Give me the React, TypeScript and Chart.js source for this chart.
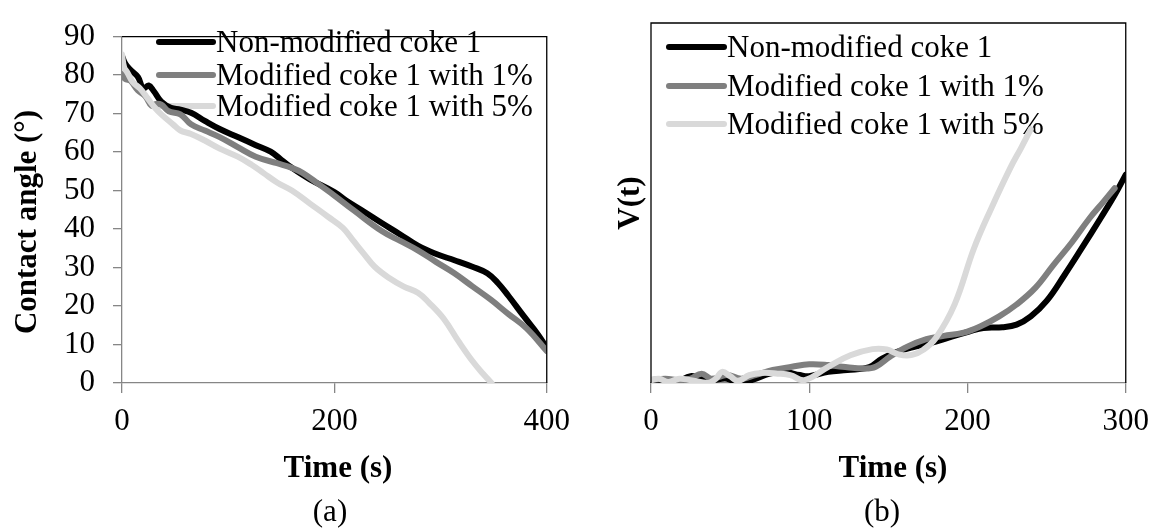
import React, { useEffect, useRef } from "react";
import { Chart, registerables } from "chart.js";

Chart.register(...registerables);

const SERIF = "'Liberation Serif', 'Times New Roman', Times, serif";
const TEXT_PX = 31;
const AXIS_GREY = "#868686";
const LINE_W = 6;

const seriesLabels = ["Non-modified coke 1", "Modified coke 1 with 1%", "Modified coke 1 with 5%"];
const seriesColors = ["#000000", "#7f7f7f", "#d9d9d9"];

// (a) Contact angle (°) against time (s)
const timeA0 = [0, 3, 7, 15, 20, 25, 30, 37, 46, 55, 65, 78, 92, 109, 126, 140, 150, 160, 177, 200, 211, 228, 245, 262, 279, 296, 313, 330, 344, 354, 364, 378, 392, 400];
const angleA0 = [85, 83, 81.6, 79.5, 76.5, 77.3, 75.8, 73.1, 71.5, 71, 70.2, 68.1, 66, 63.9, 61.8, 60.1, 58, 55.9, 52.9, 49.6, 47.4, 44.5, 41.5, 38.6, 35.6, 33.5, 31.9, 30.2, 28.5, 26, 22.6, 17.5, 12.5, 9.1];

const timeA1 = [0, 3, 8, 15, 22, 28, 32, 37, 44, 55, 65, 78, 92, 109, 126, 146, 160, 170, 183, 200, 218, 245, 262, 279, 296, 313, 330, 347, 364, 381, 400];
const angleA1 = [80.3, 79, 78.5, 76, 74.5, 72, 72.5, 72.3, 70.6, 69.8, 67.2, 65.6, 63.9, 61.3, 58.8, 57.1, 55.9, 54.6, 52.1, 48.7, 44.9, 39.4, 36.9, 34.4, 31.4, 28.5, 25.1, 21.7, 17.9, 14.2, 8.3];

const timeA5 = [0, 2, 5, 10, 17, 24, 31, 37, 48, 55, 65, 78, 92, 109, 122, 133, 146, 160, 177, 194, 208, 218, 228, 238, 252, 265, 279, 289, 303, 317, 330, 340, 348];
const angleA5 = [85.4, 82, 80.7, 78.2, 76.5, 74, 71.5, 69.8, 67.2, 65.6, 64.7, 63, 60.9, 58.8, 56.7, 54.6, 52.1, 50, 46.6, 43.2, 40.3, 36.9, 33.5, 30.2, 27.2, 25.1, 23.4, 20.9, 16.7, 10.8, 5.7, 2.4, 0];

const xTicksA = [0, 200, 400];
const yTicksA = [0, 10, 20, 30, 40, 50, 60, 70, 80, 90];

// (b) V(t) against time (s), relative units
const timeB0 = [0, 6, 16, 25, 32, 38, 48, 55, 64, 75, 84, 94, 100, 112, 124, 138, 146, 156, 167, 180, 190, 201, 210, 222, 231, 240, 250, 261, 272, 284, 293, 300];
const vB0 = [0.8, 0.8, 0.3, 1.9, 1.2, 0.8, 1.2, 0, 0.9, 2.6, 3.1, 2.2, 1.9, 3.1, 3.6, 4.4, 6.8, 8.7, 10.1, 11.5, 12.9, 14.3, 15.3, 15.5, 16.2, 18.5, 22.8, 29.8, 37.3, 45.7, 52.2, 57.9];

const timeB1 = [0, 9, 18, 25, 32, 38, 48, 57, 66, 77, 89, 100, 112, 121, 135, 142, 151, 162, 174, 185, 197, 208, 220, 231, 243, 254, 266, 277, 286, 293];
const vB1 = [0.8, 1.2, 0.8, 1.2, 2.6, 1.2, 2.2, 1.2, 2.2, 3.6, 4.5, 5.2, 5, 4.5, 4, 4.5, 7.3, 10.1, 12.2, 13.1, 13.9, 15.7, 18.5, 21.8, 26.5, 32.6, 39.1, 45.7, 50.4, 54.1];

const timeB5 = [0, 5, 11, 18, 25, 36, 41, 45, 50, 55, 62, 70, 80, 88, 97, 112, 126, 140, 149, 157, 165, 172, 180, 192, 204, 215, 227, 234, 240];
const vB5 = [0.8, 1.2, 0.3, 1.2, 0.8, 0, 1.2, 3.1, 1.9, 0.6, 2.2, 2.8, 2.6, 2.2, 0.8, 4.5, 7.7, 9.4, 9.3, 7.9, 7.8, 9.2, 12.5, 22, 37.3, 48.5, 59.7, 65.4, 70.5];

const xTicksB = [0, 100, 200, 300];

const decorPlugin = {
  id: "decor",
  beforeDatasetsDraw(chart: any, _args: any, opts: any) {
    const { ctx } = chart;
    const lg = opts.legend;
    ctx.save();
    chart.data.datasets.forEach((ds: any, i: number) => {
      const y = lg.rows[i];
      ctx.strokeStyle = ds.borderColor;
      ctx.lineWidth = LINE_W;
      ctx.lineCap = "round";
      ctx.beginPath();
      ctx.moveTo(lg.x0, y);
      ctx.lineTo(lg.x1, y);
      ctx.stroke();
      ctx.fillStyle = "#000";
      ctx.font = `${TEXT_PX}px ${SERIF}`;
      ctx.textAlign = "left";
      ctx.textBaseline = "alphabetic";
      ctx.fillText(ds.label, lg.textX, y + 10);
    });
    ctx.restore();
  },
  afterDraw(chart: any, _args: any, opts: any) {
    const { ctx, chartArea: a } = chart;
    ctx.save();
    ctx.strokeStyle = "#000";
    ctx.lineWidth = 1.3;
    ctx.lineCap = "butt";
    ctx.beginPath();
    if (opts.frameLeft) {
      ctx.moveTo(a.left, a.bottom);
      ctx.lineTo(a.left, a.top);
    } else {
      ctx.moveTo(a.left, a.top);
    }
    ctx.lineTo(a.right, a.top);
    ctx.lineTo(a.right, a.bottom);
    ctx.stroke();

    ctx.fillStyle = "#000";
    ctx.font = `bold ${TEXT_PX}px ${SERIF}`;
    ctx.textAlign = "center";
    ctx.textBaseline = "alphabetic";
    ctx.fillText(opts.xTitle, opts.xTitleX, opts.xTitleY);

    ctx.save();
    ctx.translate(opts.yTitleX, opts.yTitleY);
    ctx.rotate(-Math.PI / 2);
    ctx.textBaseline = "middle";
    ctx.fillText(opts.yTitle, 0, 0);
    ctx.restore();

    ctx.font = `${TEXT_PX}px ${SERIF}`;
    ctx.fillText(opts.tag, opts.tagX, opts.tagY);
    ctx.restore();
  },
};

type Series = { xs: number[]; ys: number[] };

function makeConfig(p: {
  series: Series[];
  xMax: number;
  xTicks: number[];
  yMax: number;
  yTicks: number[] | null;
  padding: { left: number; right: number; top: number };
  yAxisWidth: number;
  decor: any;
}) {
  const datasets = p.series.map((s, i) => ({
    label: seriesLabels[i],
    data: s.xs.map((x, k) => ({ x, y: s.ys[k] })),
    borderColor: seriesColors[i],
    backgroundColor: seriesColors[i],
    borderWidth: LINE_W,
    pointRadius: 0,
    tension: 0.4,
    borderCapStyle: "round",
    borderJoinStyle: "round",
    fill: false,
    order: p.series.length - i,
  }));
  const tickFont = { family: SERIF, size: TEXT_PX };
  return {
    type: "line",
    data: { datasets },
    plugins: [decorPlugin],
    options: {
      responsive: false,
      maintainAspectRatio: false,
      animation: false,
      devicePixelRatio: 1,
      layout: { padding: { ...p.padding, bottom: 0 } },
      plugins: {
        legend: { display: false },
        tooltip: { enabled: false },
        decor: p.decor,
      },
      scales: {
        x: {
          type: "linear",
          min: 0,
          max: p.xMax,
          afterBuildTicks: (s: any) => {
            s.ticks = p.xTicks.map((v) => ({ value: v }));
          },
          afterFit: (s: any) => {
            s.height = 146;
          },
          ticks: { font: tickFont, color: "#000", padding: 10, maxRotation: 0, autoSkip: false },
          grid: { drawOnChartArea: false, drawTicks: true, tickLength: 10, color: AXIS_GREY, lineWidth: 1.3 },
          border: { display: true, color: AXIS_GREY, width: 1.3 },
        },
        y: {
          type: "linear",
          min: 0,
          max: p.yMax,
          display: p.yTicks !== null,
          afterBuildTicks: (s: any) => {
            if (p.yTicks) s.ticks = p.yTicks.map((v) => ({ value: v }));
          },
          afterFit: (s: any) => {
            s.width = p.yAxisWidth;
          },
          ticks: { font: tickFont, color: "#000", padding: 18, autoSkip: false },
          grid: { drawOnChartArea: false, drawTicks: true, tickLength: 9, color: AXIS_GREY, lineWidth: 1.3 },
          border: { display: true, color: AXIS_GREY, width: 1.3 },
        },
      },
    },
  };
}

function ChartCanvas({ left, width, config }: { left: number; width: number; config: () => any }) {
  const ref = useRef<HTMLCanvasElement>(null);
  useEffect(() => {
    const chart = new Chart(ref.current as HTMLCanvasElement, config());
    return () => chart.destroy();
  }, []);
  return (
    <canvas
      ref={ref}
      width={width}
      height={529}
      style={{ position: "absolute", left, top: 0, width, height: 529 }}
    />
  );
}

const configA = () =>
  makeConfig({
    series: [
      { xs: timeA0, ys: angleA0 },
      { xs: timeA1, ys: angleA1 },
      { xs: timeA5, ys: angleA5 },
    ],
    xMax: 400,
    xTicks: xTicksA,
    yMax: 90,
    yTicks: yTicksA,
    padding: { left: 0, right: 24, top: 23 },
    yAxisWidth: 122,
    decor: {
      frameLeft: false,
      xTitle: "Time (s)",
      xTitleX: 338,
      xTitleY: 477,
      yTitle: "Contact angle (°)",
      yTitleX: 28,
      yTitleY: 222,
      tag: "(a)",
      tagX: 330,
      tagY: 521,
      legend: { x0: 159, x1: 213, textX: 216, rows: [42, 75, 106] },
    },
  });

const configB = () =>
  makeConfig({
    series: [
      { xs: timeB0, ys: vB0 },
      { xs: timeB1, ys: vB1 },
      { xs: timeB5, ys: vB5 },
    ],
    xMax: 300,
    xTicks: xTicksB,
    yMax: 100,
    yTicks: null,
    padding: { left: 71, right: 25, top: 23 },
    yAxisWidth: 0,
    decor: {
      frameLeft: true,
      xTitle: "Time (s)",
      xTitleX: 313,
      xTitleY: 477,
      yTitle: "V(t)",
      yTitleX: 51,
      yTitleY: 203,
      tag: "(b)",
      tagX: 302,
      tagY: 521,
      legend: { x0: 89, x1: 144, textX: 147, rows: [47, 86, 124] },
    },
  });

export default function App() {
  return (
    <div style={{ position: "absolute", left: 0, top: 0, width: 1159, height: 529, background: "#fff", overflow: "hidden" }}>
      <ChartCanvas left={0} width={580} config={configA} />
      <ChartCanvas left={580} width={579} config={configB} />
    </div>
  );
}
